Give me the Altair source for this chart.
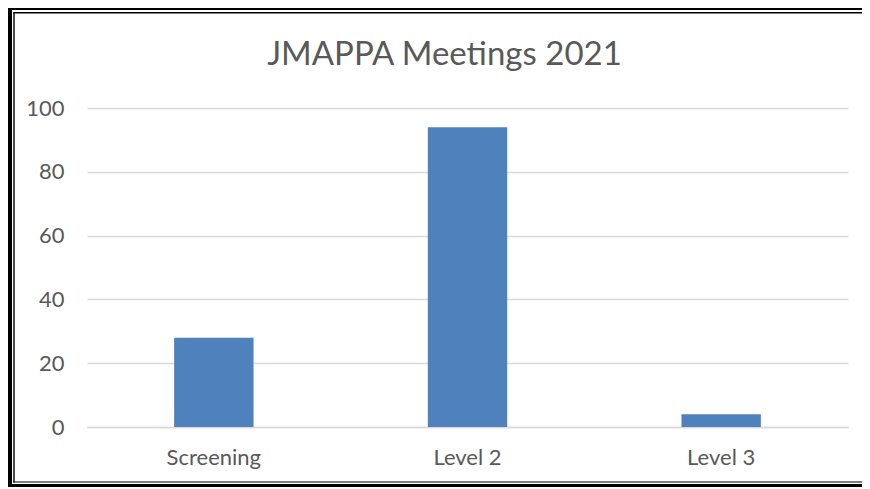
import altair as alt
import pandas as pd

categories = ["Screening", "Level 2", "Level 3"]
values = [28, 94, 4]
y_ticks = [0, 20, 40, 60, 80, 100]
title_text = "JMAPPA Meetings 2021"

df = pd.DataFrame({"category": categories, "meetings": values})

label_color = "#595959"
grid_color = "#d9d9d9"
font = "Lato"

bars = alt.Chart(df).mark_bar(color="#4F81BD").encode(
    x=alt.X(
        "category:N",
        sort=categories,
        scale=alt.Scale(paddingInner=0.687, paddingOuter=0.3435),
        axis=alt.Axis(
            title=None, labelAngle=0, ticks=False, domain=True,
            domainColor=grid_color, domainWidth=1.5,
            labelFont=font, labelFontSize=22, labelColor=label_color,
            labelPadding=20,
        ),
    ),
    y=alt.Y(
        "meetings:Q",
        scale=alt.Scale(domain=[0, 100], nice=False),
        axis=alt.Axis(
            values=y_ticks, title=None, ticks=False, domain=False,
            grid=True, gridColor=grid_color, gridWidth=1.5,
            labelFont=font, labelFontSize=22, labelColor=label_color,
            labelPadding=23,
        ),
    ),
)

frame_data = alt.Data(values=[{"k": 1}])
def frame_rect(x, x2, y, y2):
    return alt.Chart(frame_data).mark_rect(color="black").encode(
        x=alt.value(x), x2=alt.value(x2), y=alt.value(y), y2=alt.value(y2)
    )

frame = (
    frame_rect(-79, -75, -100, 379)      # left thick
    + frame_rect(-73.7, -72.3, -95.5, 374.5)  # left thin
    + frame_rect(-79, 775, -100, -98)    # top thick
    + frame_rect(-73.7, 775, -96, -94.6)  # top thin
    + frame_rect(-73.7, 775, 373.4, 374.6)  # bottom thin
    + frame_rect(-79, 775, 376, 379)     # bottom thick
)

chart = (
    alt.layer(bars, frame)
    .properties(
        width=761,
        height=319,
        autosize=alt.AutoSizeParams(type="none"),
        padding={"left": 79, "top": 100, "right": 14, "bottom": 60},
        title=alt.TitleParams(
            title_text, font=font, fontSize=33, color=label_color,
            fontWeight="normal", anchor="middle", dx=-23, offset=-64,
        ),
    )
    .configure_view(stroke=None)
)

chart.save("out.html", embed_options={"renderer": "svg", "actions": False})
